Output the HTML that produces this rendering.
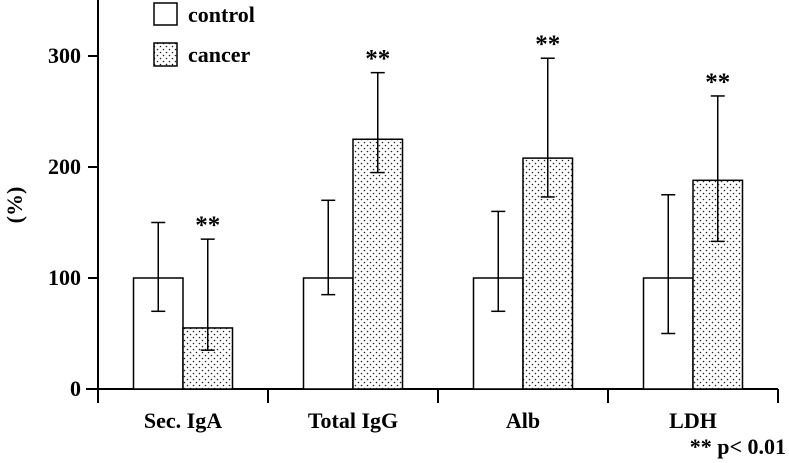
<!DOCTYPE html>
<html><head><meta charset="utf-8"><style>
html,body{margin:0;padding:0;background:#fff}
svg{display:block;font-family:"Liberation Serif",serif;font-weight:bold}
</style></head><body>
<svg id="chart" width="789" height="463" viewBox="0 0 789 463">
<defs>
<pattern id="dots" width="6" height="6" patternUnits="userSpaceOnUse">
<rect width="6" height="6" fill="#fff"/>
<circle cx="1.5" cy="1.5" r="0.8" fill="#222"/>
<circle cx="4.5" cy="4.5" r="0.8" fill="#222"/>
</pattern>
</defs>
<g id="axes"></g>
<g id="bars"></g>
<g>
<rect x="154" y="3" width="23" height="22" fill="#fff" stroke="#000" stroke-width="1.5"/>
<text x="188" y="22" font-size="22">control</text>
<rect x="154" y="43" width="23" height="23" fill="url(#dots)" stroke="#000" stroke-width="1.5"/>
<text x="188" y="62" font-size="22">cancer</text>
</g>
<text transform="translate(22,205) rotate(-90)" text-anchor="middle" font-size="22">(%)</text>
<text x="786" y="454" text-anchor="end" font-size="22">** p&lt; 0.01</text>
</svg>
<script>
const categories = ["Sec. IgA","Total IgG","Alb","LDH"];
const controlValues = [100,100,100,100];
const controlLow = [70,85,70,50];
const controlHigh = [150,170,160,175];
const cancerValues = [55,225,208,188];
const cancerLow = [35,195,173,133];
const cancerHigh = [135,285,298,264];
const significant = [true,true,true,true];
const yTicks = [0,100,200,300];

const NS="http://www.w3.org/2000/svg";
const x0=98, groupW=170, y0=389, pxPer=1.11, barW=49.5;
const y=v=>y0-v*pxPer;
const gx=i=>x0+groupW*i+groupW/2;
function mk(tag,attrs,parent){const e=document.createElementNS(NS,tag);for(const k in attrs)e.setAttribute(k,attrs[k]);parent.appendChild(e);return e;}
const axes=document.getElementById('axes'), bars=document.getElementById('bars');

let yl=mk('line',{x1:x0,y1:0,x2:x0,y2:y0,stroke:'#000','stroke-width':2},axes);


let xl=mk('line',{x1:x0-12,y1:y0,x2:x0+groupW*categories.length,y2:y0,stroke:'#000','stroke-width':2},axes);


yTicks.forEach(t=>{
  let l=mk('line',{x1:x0-10,y1:y(t),x2:x0,y2:y(t),stroke:'#000','stroke-width':2},axes);
  
  
  let tx=mk('text',{x:x0-17,y:y(t)+7,'text-anchor':'end','font-size':22},axes);
  tx.textContent=t;
  
  
});
for(let i=0;i<=categories.length;i++){
  let l=mk('line',{x1:x0+groupW*i,y1:y0,x2:x0+groupW*i,y2:y0+14,stroke:'#000','stroke-width':2},axes);
  
  
}
function errbar(cx,lo,hi){
  let g=mk('g',{},bars);
  
  
  mk('line',{x1:cx,y1:y(lo),x2:cx,y2:y(hi),stroke:'#000','stroke-width':1.5},g);
  mk('line',{x1:cx-7,y1:y(lo),x2:cx+7,y2:y(lo),stroke:'#000','stroke-width':1.5},g);
  mk('line',{x1:cx-7,y1:y(hi),x2:cx+7,y2:y(hi),stroke:'#000','stroke-width':1.5},g);
}
categories.forEach((c,i)=>{
  const cx=gx(i);
  let r1=mk('rect',{x:cx-barW,y:y(controlValues[i]),width:barW,height:controlValues[i]*pxPer,fill:'#fff',stroke:'#000','stroke-width':1.5},bars);
  
  
  let r2=mk('rect',{x:cx,y:y(cancerValues[i]),width:barW,height:cancerValues[i]*pxPer,fill:'url(#dots)',stroke:'#000','stroke-width':1.5},bars);
  
  
  errbar(cx-barW/2,controlLow[i],controlHigh[i]);
  errbar(cx+barW/2,cancerLow[i],cancerHigh[i]);
  if(significant[i]){
    let s=mk('text',{x:cx+barW/2,y:y(cancerHigh[i])-6,'text-anchor':'middle','font-size':25},bars);
    s.textContent='**';
    
    
  }
  let lb=mk('text',{x:cx,y:y0+39,'text-anchor':'middle','font-size':22},axes);
  lb.textContent=c;
  
  
});
</script>
</body></html>
